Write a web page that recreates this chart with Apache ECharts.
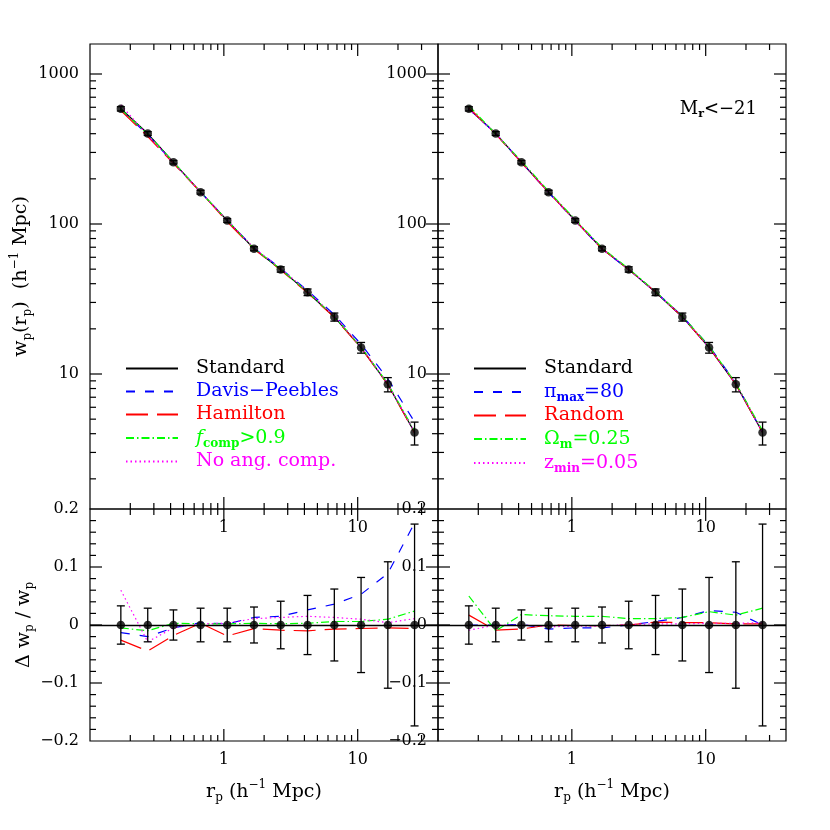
<!DOCTYPE html>
<html><head><meta charset="utf-8">
<script src="https://cdn.jsdelivr.net/npm/echarts@6/dist/echarts.min.js"></script>
<style>html,body{margin:0;padding:0;background:#fff}#main{width:830px;height:830px}</style>
</head><body><div id="main"></div>
<script>
// ---------------- data ----------------
const rp = [0.17, 0.27, 0.42, 0.67, 1.06, 1.68, 2.66, 4.22, 6.69, 10.6, 16.8, 26.6];
const wp = [586, 401, 258, 163, 105.5, 68.4, 49.8, 35.1, 24.0, 15.0, 8.53, 4.07];
const relErr = [0.033, 0.029, 0.026, 0.029, 0.029, 0.031, 0.041, 0.051, 0.062, 0.082, 0.109, 0.174];
// fractional differences (left panel)
const dDavisPeebles = [-0.013, -0.020, -0.005, 0.004, 0.002, 0.013, 0.015, 0.026, 0.036, 0.053, 0.089, 0.176];
const dHamilton     = [-0.026, -0.045, -0.018, 0.003, -0.019, -0.006, -0.009, -0.010, -0.007, -0.006, -0.005, -0.006];
const dFcomp        = [-0.005, -0.010, 0.003, 0.002, 0.002, 0.003, 0.002, 0.003, 0.006, 0.006, 0.010, 0.024];
const dNoAng        = [0.060, -0.029, -0.005, 0.002, 0.003, 0.011, 0.013, 0.015, 0.013, 0.010, 0.004, 0.011];
// fractional differences (right panel)
const dPimax   = [0.000, 0.000, 0.001, -0.007, -0.005, -0.005, 0.000, 0.006, 0.013, 0.025, 0.022, 0.000];
const dRandom  = [0.017, -0.009, -0.007, 0.000, -0.001, -0.001, 0.000, 0.005, 0.004, 0.004, 0.002, 0.002];
const dOmega   = [0.050, -0.010, 0.018, 0.016, 0.015, 0.015, 0.011, 0.011, 0.013, 0.023, 0.017, 0.029];
const dZmin    = [-0.009, 0.000, 0.000, -0.003, -0.002, -0.002, 0.001, 0.002, 0.002, 0.003, 0.003, 0.004];
// ticks
const xTickMajor = [1, 10];
const xTickMinor = [0.2,0.3,0.4,0.5,0.6,0.7,0.8,0.9,2,3,4,5,6,7,8,9,20,30];
const yTopMajor = [10, 100, 1000];
const yTopMinor = [2,3,4,5,6,7,8,9,20,30,40,50,60,70,80,90,200,300,400,500,600,700,800,900];
const yBotMajor = [-0.1, 0, 0.1];
const yBotMinor = [-0.18,-0.16,-0.14,-0.12,-0.08,-0.06,-0.04,-0.02,0.02,0.04,0.06,0.08,0.12,0.14,0.16,0.18];
const xMin = 0.1, xMax = Math.pow(10, 1.6);
const yTopMin = Math.pow(10, 0.1), yTopMax = Math.pow(10, 3.2);
const yBotMin = -0.2, yBotMax = 0.2;

// ---------------- style ----------------
const FONT = "'DejaVu Serif', serif";
const BLUE = '#0000ff', RED = '#ff0000', GREEN = '#00ff00', MAG = '#ff00ff';
const DASH_BLUE = [9, 10], DASH_RED = [22, 9], DASH_GREEN = [8, 3, 1.5, 3], DASH_MAG = [1.5, 3];

const legendNames = {
  L0: '{t|Standard}', L1: '{t|Davis\u2212Peebles}', L2: '{t|Hamilton}',
  L3: '{i|f}{s|comp}{t|>0.9}', L4: '{t|No ang. comp.}',
  R0: '{t|Standard}', R1: '{t|\u03c0}{s|max}{t|=80}', R2: '{t|Random}',
  R3: '{t|\u03a9}{s|m}{t|=0.25}', R4: '{t|z}{s|min}{t|=0.05}'
};

function logLabel(v) {
  const l = Math.log10(v), r = Math.round(l);
  if (Math.abs(l - r) > 1e-6 || r < 0) return '';
  return String(Math.round(Math.pow(10, r)));
}
function linLabel(v) {
  if (Math.abs(v) < 1e-9) return '0';
  return (v < 0 ? '\u2212' : '') + Math.abs(v).toFixed(1);
}
const labelStyle = {fontFamily: FONT, fontSize: 16, color: '#000'};
const richTitle = {
  t: {fontFamily: FONT, fontSize: 19, color: '#000', lineHeight: 26},
  s: {fontFamily: FONT, fontSize: 12, color: '#000', lineHeight: 26, padding: [12, 0, 0, 0]},
  u: {fontFamily: FONT, fontSize: 12, color: '#000', lineHeight: 26, padding: [0, 0, 14, 0]}
};

const grids = [
  {left: 90, top: 44, width: 348, height: 465},
  {left: 438, top: 44, width: 348, height: 465},
  {left: 90, top: 509, width: 348, height: 232},
  {left: 438, top: 509, width: 348, height: 232}
].map(g => Object.assign(g, {show: true, borderColor: '#000', borderWidth: 1.2,
  backgroundColor: 'transparent', containLabel: false, outerBoundsMode: 'none'}));

const xAxes = [0, 1, 2, 3].map(g => ({
  type: 'log', gridIndex: g, min: xMin, max: xMax, logBase: 10,
  axisLine: {show: false}, axisTick: {show: false}, splitLine: {show: false}, minorTick: {show: false},
  axisLabel: Object.assign({formatter: logLabel, margin: 11, showMinLabel: true, showMaxLabel: true}, labelStyle),
  name: g >= 2 ? '{t|r}{s|p}{t| (h}{u|\u22121}{t| Mpc)}' : '',
  nameLocation: 'middle', nameGap: 38,
  nameTextStyle: {rich: richTitle}
}));
const yAxes = [0, 1, 2, 3].map(g => {
  const top = g < 2;
  const ax = {
    gridIndex: g,
    axisLine: {show: false}, axisTick: {show: false}, splitLine: {show: false}, minorTick: {show: false},
    axisLabel: Object.assign({margin: 11}, labelStyle),
    nameLocation: 'middle', nameRotate: 90, nameGap: 52,
    nameTextStyle: {rich: richTitle}
  };
  if (top) {
    Object.assign(ax, {type: 'log', logBase: 10, min: yTopMin, max: yTopMax});
    ax.axisLabel.formatter = logLabel;
    if (g === 0) ax.name = '{t|w}{s|p}{t|(r}{s|p}{t|)  (h}{u|\u22121}{t| Mpc)}';
  } else {
    Object.assign(ax, {type: 'value', min: yBotMin, max: yBotMax, interval: 0.1});
    ax.axisLabel.formatter = linLabel;
    if (g === 2) ax.name = '{t|\u0394 w}{s|p}{t| / w}{s|p}';
  }
  return ax;
});

function lineSeries(name, g, ys, color, type) {
  return {
    type: 'line', name, xAxisIndex: g, yAxisIndex: g,
    data: rp.map((x, i) => [x, ys[i]]), symbol: 'none', showSymbol: false,
    lineStyle: {color, width: 1.2, type}, itemStyle: {color}, z: 3, silent: true, animation: false
  };
}
function errSeries(g, lo, hi) {
  return {
    type: 'custom', xAxisIndex: g, yAxisIndex: g, silent: true, z: 4, animation: false,
    data: rp.map((x, i) => [x, lo[i], hi[i]]),
    encode: {x: 0, y: [1, 2]},
    renderItem: (params, api) => {
      const x = api.value(0);
      const a = api.coord([x, api.value(1)]), b = api.coord([x, api.value(2)]);
      const c = 4, st = {stroke: '#000', lineWidth: 1.3};
      return {type: 'group', children: [
        {type: 'line', shape: {x1: a[0], y1: a[1], x2: b[0], y2: b[1]}, style: st},
        {type: 'line', shape: {x1: a[0] - c, y1: a[1], x2: a[0] + c, y2: a[1]}, style: st},
        {type: 'line', shape: {x1: b[0] - c, y1: b[1], x2: b[0] + c, y2: b[1]}, style: st}
      ]};
    }
  };
}
function pointSeries(g, ys, zeroLine) {
  const s = {
    type: 'scatter', xAxisIndex: g, yAxisIndex: g, silent: true, z: 5, animation: false,
    data: rp.map((x, i) => [x, ys[i]]), symbol: 'circle', symbolSize: 8.5, itemStyle: {color: '#000'}
  };
  if (zeroLine) s.markLine = {silent: true, symbol: 'none', label: {show: false}, animation: false,
    lineStyle: {color: '#000', width: 1.3, type: 'solid'}, data: [{yAxis: 0}]};
  return s;
}
const scaleUp = d => wp.map((w, i) => w * (1 + d[i]));
const zeros = rp.map(() => 0);
const errLoTop = wp.map((w, i) => w * (1 - relErr[i]));
const errHiTop = wp.map((w, i) => w * (1 + relErr[i]));
const errLoBot = relErr.map(e => -e);

const leftSet = [['L1', dDavisPeebles, BLUE, DASH_BLUE], ['L2', dHamilton, RED, DASH_RED],
                 ['L3', dFcomp, GREEN, DASH_GREEN], ['L4', dNoAng, MAG, DASH_MAG]];
const rightSet = [['R1', dPimax, BLUE, DASH_BLUE], ['R2', dRandom, RED, DASH_RED],
                  ['R3', dOmega, GREEN, DASH_GREEN], ['R4', dZmin, MAG, DASH_MAG]];

const series = [];
[[leftSet, 0, 2, 'L0'], [rightSet, 1, 3, 'R0']].forEach(([set, gt, gb, std]) => {
  series.push(lineSeries(std, gt, wp, '#000', 'solid'));
  set.forEach(([n, d, c, t]) => {
    series.push(lineSeries(n, gt, scaleUp(d), c, t));
    series.push(lineSeries(n + 'b', gb, d, c, t));
  });
  series.push(errSeries(gt, errLoTop, errHiTop));
  series.push(pointSeries(gt, wp, false));
  series.push(errSeries(gb, errLoBot, relErr));
  series.push(pointSeries(gb, zeros, true));
});

const colorOf = {0: '#000', 1: BLUE, 2: RED, 3: GREEN, 4: MAG};
function legendFor(prefix, left) {
  return {
    left, top: 357, orient: 'vertical', itemWidth: 52, itemHeight: 14, itemGap: 0, padding: 0,
    selectedMode: false,
    itemStyle: {color: 'rgba(0,0,0,0)', borderColor: 'rgba(0,0,0,0)', borderWidth: 0, opacity: 0},
    data: [0, 1, 2, 3, 4].map(k => ({name: prefix + k, textStyle: {color: colorOf[k]}})),
    formatter: n => legendNames[n],
    textStyle: {fontFamily: FONT, fontSize: 19, lineHeight: 23, padding: [0, 0, 0, 13],
      rich: {
        t: {fontFamily: FONT, fontSize: 19, lineHeight: 23},
        i: {fontFamily: FONT, fontSize: 19, lineHeight: 23, fontStyle: 'italic'},
        s: {fontFamily: FONT, fontSize: 12, lineHeight: 23, fontWeight: 'bold', padding: [12, 0, 0, 0]}
      }}
  };
}

const option = {
  animation: false,
  backgroundColor: '#fff',
  grid: grids, xAxis: xAxes, yAxis: yAxes,
  legend: [legendFor('L', 125), legendFor('R', 473)],
  series
};

const chart = echarts.init(document.getElementById('main'), null, {renderer: 'canvas'});
chart.setOption(option);

// ---------------- ticks (via the library's coordinate conversion) ----------------
const els = [];
const addLine = (x1, y1, x2, y2) => els.push({type: 'line', silent: true, z: 10,
  shape: {x1, y1, x2, y2}, style: {stroke: '#000', lineWidth: 1.2}});
[0, 1, 2, 3].forEach(g => {
  const top = g < 2;
  const yLo = top ? yTopMin : yBotMin, yHi = top ? yTopMax : yBotMax;
  const yMaj = top ? yTopMajor : yBotMajor, yMin = top ? yTopMinor : yBotMinor;
  const P = (x, y) => chart.convertToPixel({gridIndex: g}, [x, y]);
  [[xTickMajor, 12], [xTickMinor, 6]].forEach(([arr, L]) => arr.forEach(v => {
    const b = P(v, yLo), t = P(v, yHi);
    addLine(b[0], b[1], b[0], b[1] - L);
    addLine(t[0], t[1], t[0], t[1] + L);
  }));
  [[yMaj, 12], [yMin, 6]].forEach(([arr, L]) => arr.forEach(v => {
    const l = P(xMin, v), r = P(xMax, v);
    addLine(l[0], l[1], l[0] + L, l[1]);
    addLine(r[0], r[1], r[0] - L, r[1]);
  }));
});
els.push({type: 'text', x: 757, y: 109, silent: true, z: 10,
  style: {text: '{t|M}{s|r}{t|<\u221221}', align: 'right', verticalAlign: 'middle',
    textAlign: 'right', textVerticalAlign: 'middle',
    rich: {
      t: {fontFamily: FONT, fontSize: 18, fill: '#000', color: '#000', lineHeight: 22},
      s: {fontFamily: FONT, fontSize: 11, fill: '#000', color: '#000', fontWeight: 'bold', lineHeight: 22, padding: [11, 0, 0, 0]}
    }}});
chart.setOption({graphic: els});
</script></body></html>
